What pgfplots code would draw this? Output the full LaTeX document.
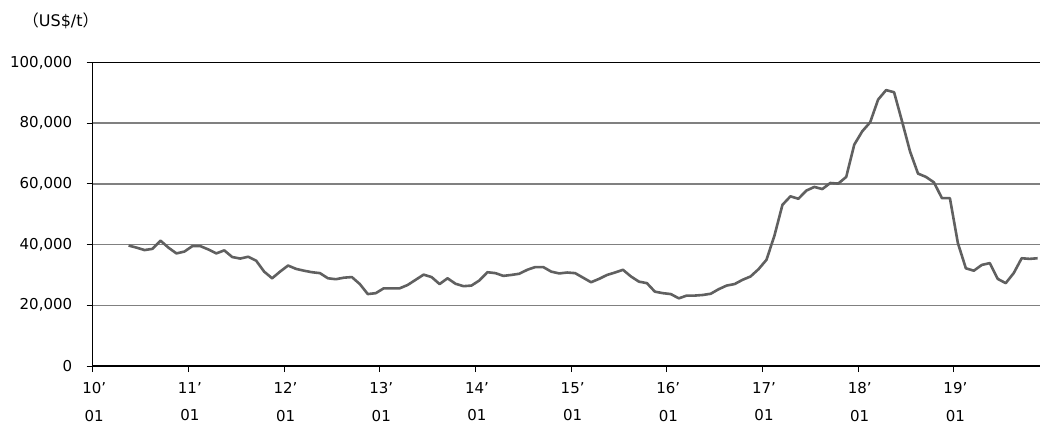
\documentclass[border=0pt]{standalone}
\usepackage{fontspec}
\setmainfont{DejaVu Sans}
\newfontfamily\cjk{Noto Sans CJK JP}
\usepackage{pgfplots}
\pgfplotsset{compat=1.18}

\definecolor{linegray}{RGB}{96,96,96}
\definecolor{gridgray}{RGB}{128,128,128}

\begin{document}
\begin{tikzpicture}
\begin{axis}[
  at={(0,0)}, anchor=south west,
  scale only axis, width=947.3pt, height=303.5pt,
  xmin=0, xmax=118.8,
  ymin=0, ymax=100000,
  axis x line=box, axis y line=left,
  axis line style={-, black, line width=1.3pt},
  xtick pos=left,
  xtick={0,12,...,108},
  xticklabels={{10’\\01},{11’\\01},{12’\\01},{13’\\01},{14’\\01},
               {15’\\01},{16’\\01},{17’\\01},{18’\\01},{19’\\01}},
  ytick={0,20000,...,100000},
  scaled y ticks=false,
  ymajorgrids,
  grid style={gridgray, line width=1.4pt},
  tick align=outside,
  major tick length=6pt,
  tick style={black, line width=1pt},
  ticklabel style={font=\fontsize{15}{27.5}\selectfont},
  xticklabel style={align=center, xshift=1.5pt, yshift=-7pt},
  yticklabel style={xshift=-11pt,
    /pgf/number format/.cd, fixed, 1000 sep={,}, assume math mode=true},
]

\addplot[linegray, line width=2.6pt, line join=round] coordinates {
(4.5,39700) (5.5,39000) (6.5,38200) (7.5,38600) (8.5,41300) (9.5,39000)
(10.5,37100) (11.5,37700) (12.5,39500) (13.5,39500) (14.5,38400) (15.5,37100)
(16.5,38100) (17.5,35900) (18.5,35400) (19.5,36000) (20.5,34700) (21.5,31100)
(22.5,28900) (23.5,31100) (24.5,33100) (25.5,32000) (26.5,31400) (27.5,30900)
(28.5,30600) (29.5,28900) (30.5,28600) (31.5,29100) (32.5,29300) (33.5,27000)
(34.5,23700) (35.5,24000) (36.5,25600) (37.5,25600) (38.5,25600) (39.5,26700)
(40.5,28400) (41.5,30100) (42.5,29300) (43.5,27000) (44.5,28900) (45.5,27100)
(46.5,26300) (47.5,26500) (48.5,28200) (49.5,30900) (50.5,30600) (51.5,29700)
(52.5,30000) (53.5,30400) (54.5,31700) (55.5,32600) (56.5,32600) (57.5,31100)
(58.5,30500) (59.5,30800) (60.5,30600) (61.5,29100) (62.5,27600) (63.5,28700)
(64.5,30000) (65.5,30800) (66.5,31700) (67.5,29500) (68.5,27800) (69.5,27300)
(70.5,24500) (71.5,24000) (72.5,23700) (73.5,22300) (74.5,23200) (75.5,23200)
(76.5,23400) (77.5,23800) (78.5,25300) (79.5,26500) (80.5,27000) (81.5,28400)
(82.5,29500) (83.5,31900) (84.5,35000) (85.5,43000) (86.5,53100) (87.5,55900)
(88.5,55100) (89.5,57800) (90.5,59000) (91.5,58300) (92.5,60300) (93.5,60100)
(94.5,62300) (95.5,72900) (96.5,77300) (97.5,80300) (98.5,87800) (99.5,90900)
(100.5,90200) (101.5,80600) (102.5,70700) (103.5,63400) (104.5,62300) (105.5,60500)
(106.5,55300) (107.5,55300) (108.5,40500) (109.5,32200) (110.5,31400) (111.5,33300)
(112.5,33900) (113.5,28700) (114.5,27300) (115.5,30600) (116.5,35500) (117.5,35300)
(118.5,35500)
};

\end{axis}
\node[anchor=west, inner sep=0pt, font=\fontsize{16}{16}\selectfont]
  at (-70pt,345pt) {{\cjk （}US\$/t{\cjk ）}};
\pgfresetboundingbox
\path (-92.7pt,-57pt) rectangle (947.3pt,366pt);
\end{tikzpicture}
\end{document}
